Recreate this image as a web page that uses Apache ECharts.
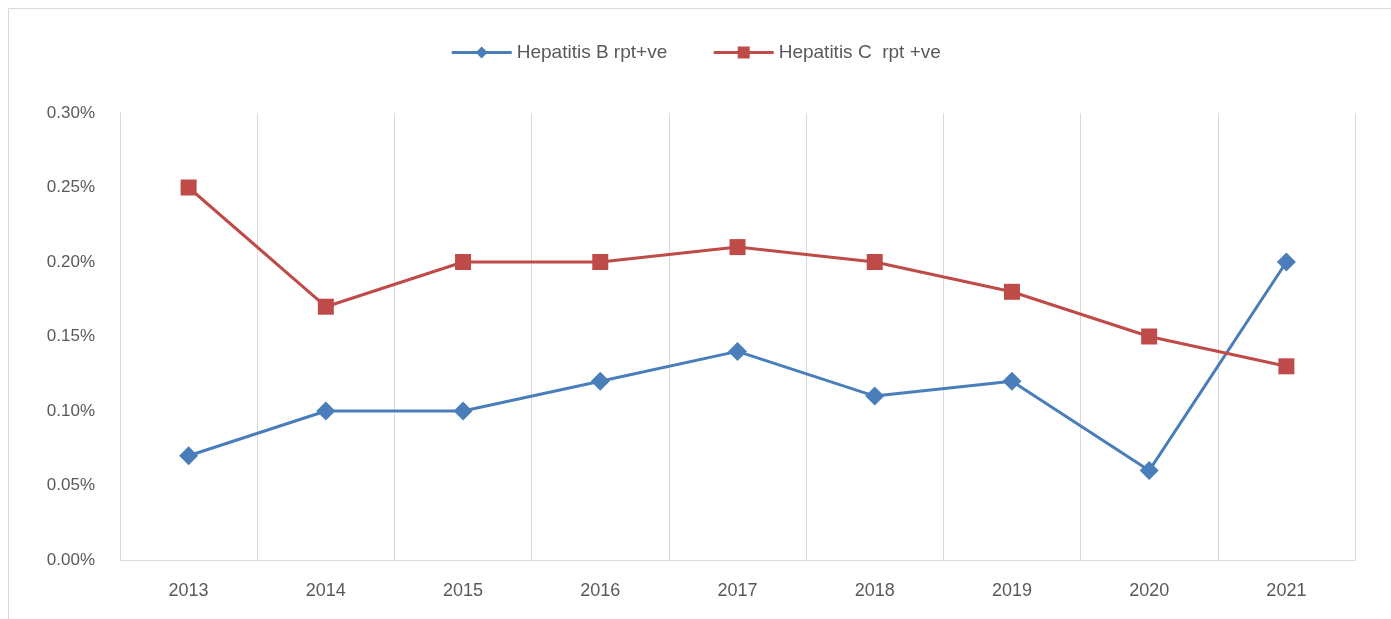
<!DOCTYPE html>
<html>
<head>
<meta charset="utf-8">
<title>Hepatitis B / C</title>
<script src="https://cdn.jsdelivr.net/npm/echarts@6/dist/echarts.min.js"></script>
<style>
  html, body { margin: 0; padding: 0; background: #fff; }
  #chart { width: 1391px; height: 619px; }
</style>
</head>
<body>
<div id="chart"></div>
<script>
// 年份
var years = ['2013', '2014', '2015', '2016', '2017', '2018', '2019', '2020', '2021'];
// values in percent
var hepB = [0.07, 0.10, 0.10, 0.12, 0.14, 0.11, 0.12, 0.06, 0.20];
var hepC = [0.25, 0.17, 0.20, 0.20, 0.21, 0.20, 0.18, 0.15, 0.13];
var seriesNames = ['Hepatitis B rpt+ve', 'Hepatitis C  rpt +ve'];

var chart = echarts.init(document.getElementById('chart'));
var grey = '#d9d9d9';

chart.setOption({
  animation: false,
  textStyle: { fontFamily: 'Liberation Sans, DejaVu Sans, sans-serif' },
  graphic: [
    { type: 'line', shape: { x1: 8.5, y1: 8.5, x2: 1391, y2: 8.5 }, style: { stroke: grey, lineWidth: 1 } },
    { type: 'line', shape: { x1: 8.5, y1: 8.5, x2: 8.5, y2: 619 }, style: { stroke: grey, lineWidth: 1 } }
  ],
  legend: {
    top: 38,
    left: 'center',
    itemWidth: 60,
    itemHeight: 15,
    itemGap: 45,
    lineStyle: { width: 3 },
    textStyle: { color: '#595959', fontSize: 19 },
    data: seriesNames
  },
  grid: {
    left: 120,
    right: 36,
    top: 113,
    bottom: 59,
    containLabel: false
  },
  xAxis: {
    type: 'category',
    data: years,
    boundaryGap: true,
    axisLine: { lineStyle: { color: grey, width: 1 } },
    axisTick: { show: false },
    axisLabel: { color: '#595959', fontSize: 18, margin: 22 },
    splitLine: { show: true, lineStyle: { color: grey, width: 1 } }
  },
  yAxis: {
    type: 'value',
    min: 0,
    max: 0.30,
    interval: 0.05,
    axisLine: { show: true, lineStyle: { color: grey, width: 1 } },
    axisTick: { show: false },
    splitLine: { show: false },
    axisLabel: {
      color: '#595959',
      fontSize: 17,
      margin: 25,
      formatter: function (v) { return v.toFixed(2) + '%'; }
    }
  },
  series: [
    {
      name: seriesNames[0],
      type: 'line',
      data: hepB,
      symbol: 'diamond',
      symbolSize: 19,
      lineStyle: { color: '#4a7ebb', width: 3 },
      itemStyle: { color: '#4a7ebb' }
    },
    {
      name: seriesNames[1],
      type: 'line',
      data: hepC,
      symbol: 'rect',
      symbolSize: 16,
      lineStyle: { color: '#be4b48', width: 3 },
      itemStyle: { color: '#be4b48' }
    }
  ]
});
</script>
</body>
</html>
